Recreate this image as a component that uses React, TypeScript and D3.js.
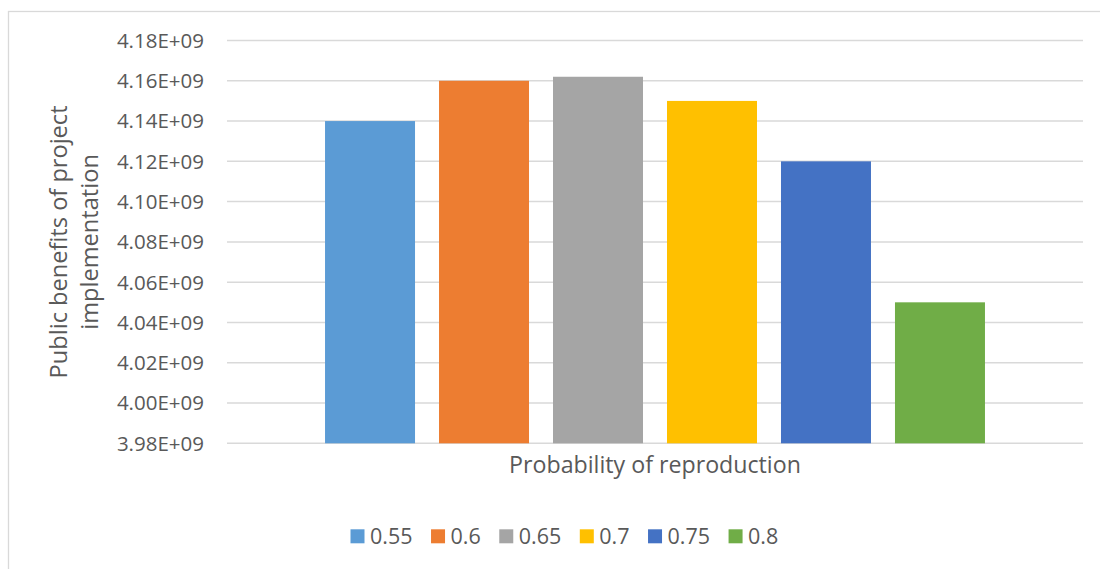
import React, { useEffect, useRef } from "react";
import * as d3 from "d3";

// Public benefits per reproduction probability (single category, one bar per series)
const seriesNames = ["0.55", "0.6", "0.65", "0.7", "0.75", "0.8"];
const seriesValues = [4.14e9, 4.16e9, 4.162e9, 4.15e9, 4.12e9, 4.05e9];
const seriesColors = ["#5B9BD5", "#ED7D31", "#A5A5A5", "#FFC000", "#4472C4", "#70AD47"];
const yTicks = [3.98e9, 4.0e9, 4.02e9, 4.04e9, 4.06e9, 4.08e9, 4.1e9, 4.12e9, 4.14e9, 4.16e9, 4.18e9];
const xTitle = "Probability of reproduction";
const yTitleLines = ["Public benefits of project", "implementation"];

const W = 1100;
const H = 569;
const FONT = "'Open Sans', sans-serif";
const TEXT = "#595959";
const GRID = "#d9d9d9";

const fmtTick = (v: number) => {
  const exp = Math.floor(Math.log10(v));
  const mant = v / Math.pow(10, exp);
  return `${mant.toFixed(2)}E+${String(exp).padStart(2, "0")}`;
};

export default function App() {
  const ref = useRef<SVGSVGElement | null>(null);

  useEffect(() => {
    const svg = d3.select(ref.current);
    svg.selectAll("*").remove();

    const plot = { left: 227, right: 1083, top: 40.5, bottom: 443.3 };

    // chart frame
    svg
      .append("rect")
      .attr("x", 8.5)
      .attr("y", 11.5)
      .attr("width", 1120)
      .attr("height", 600)
      .attr("fill", "#fff")
      .attr("stroke", GRID)
      .attr("stroke-width", 1.3);

    const y = d3.scaleLinear().domain([yTicks[0], yTicks[yTicks.length - 1]]).range([plot.bottom, plot.top]);
    const x = d3
      .scaleBand<string>()
      .domain(seriesNames)
      .range([plot.left, plot.right])
      .paddingInner(24 / 114)
      .paddingOuter(0.86);

    // gridlines
    svg
      .append("g")
      .selectAll("line")
      .data(yTicks)
      .join("line")
      .attr("x1", plot.left)
      .attr("x2", plot.right)
      .attr("y1", (d) => y(d))
      .attr("y2", (d) => y(d))
      .attr("stroke", GRID)
      .attr("stroke-width", 1.5);

    // tick labels
    svg
      .append("g")
      .selectAll("text")
      .data(yTicks)
      .join("text")
      .attr("x", 204)
      .attr("y", (d) => y(d))
      .attr("dy", "0.36em")
      .attr("text-anchor", "end")
      .attr("font-family", FONT)
      .attr("font-size", 20.5)
      .attr("fill", TEXT)
      .text((d) => fmtTick(d));

    // bars
    svg
      .append("g")
      .selectAll("rect")
      .data(seriesNames)
      .join("rect")
      .attr("x", (d) => x(d)!)
      .attr("width", x.bandwidth())
      .attr("y", (_, i) => y(seriesValues[i]))
      .attr("height", (_, i) => plot.bottom - y(seriesValues[i]))
      .attr("fill", (_, i) => seriesColors[i]);

    // x axis title
    svg
      .append("text")
      .attr("x", (plot.left + plot.right) / 2)
      .attr("y", 473)
      .attr("text-anchor", "middle")
      .attr("font-family", FONT)
      .attr("font-size", 23.2)
      .attr("fill", TEXT)
      .text(xTitle);

    // y axis title (two lines, rotated)
    const yt = svg
      .append("text")
      .attr("transform", `translate(67, ${(plot.top + plot.bottom) / 2}) rotate(-90)`)
      .attr("text-anchor", "middle")
      .attr("font-family", FONT)
      .attr("font-size", 23.6)
      .attr("fill", TEXT);
    yTitleLines.forEach((line, i) => {
      yt.append("tspan")
        .attr("x", 0)
        .attr("dy", i === 0 ? 0 : 31)
        .text(line);
    });

    // legend, centred under the chart
    const legend = svg.append("g");
    const sq = 14;
    const gapText = 5.5;
    const gapItem = 18.5;
    const items = seriesNames.map((name, i) => {
      const g = legend.append("g");
      g.append("rect")
        .attr("width", sq)
        .attr("height", sq)
        .attr("y", -sq / 2)
        .attr("fill", seriesColors[i]);
      const t = g
        .append("text")
        .attr("x", sq + gapText)
        .attr("dy", "0.36em")
        .attr("font-family", FONT)
        .attr("font-size", 21.5)
        .attr("fill", TEXT)
        .text(name);
      const w = (t.node() as SVGTextElement).getComputedTextLength();
      return { g, w: sq + gapText + w };
    });
    const total = d3.sum(items, (d) => d.w) + gapItem * (items.length - 1);
    let cx = 564.4 - total / 2;
    items.forEach((it) => {
      it.g.attr("transform", `translate(${cx}, 536.3)`);
      cx += it.w + gapItem;
    });
  }, []);

  return (
    <svg
      ref={ref}
      width={W}
      height={H}
      style={{ position: "absolute", left: 0, top: 0, background: "#fff" }}
    />
  );
}
